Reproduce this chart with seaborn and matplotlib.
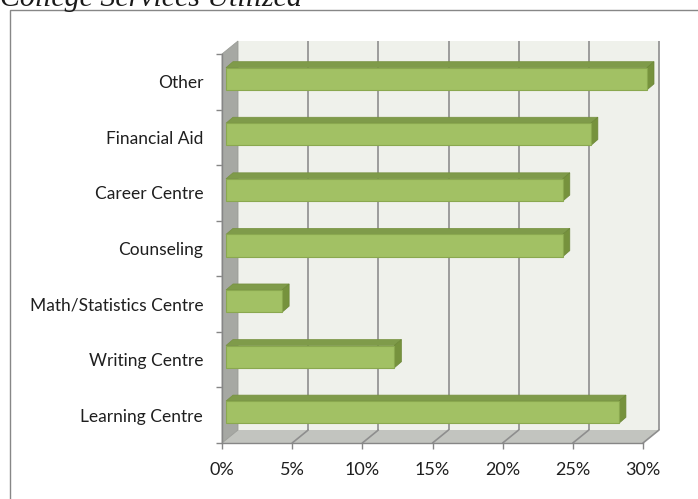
import numpy as np
import pandas as pd
import matplotlib.pyplot as plt
import seaborn as sns
from matplotlib.patches import Polygon, Rectangle
from matplotlib.transforms import ScaledTranslation

# Data
services = ["Other", "Financial Aid", "Career Centre", "Counseling",
            "Math/Statistics Centre", "Writing Centre", "Learning Centre"]
percent = [30, 26, 24, 24, 4, 12, 28]
x_ticks = [0, 5, 10, 15, 20, 25, 30]
x_labels = ["0%", "5%", "10%", "15%", "20%", "25%", "30%"]
title = "College Services Utilized"

sns.set_theme(style="white")
plt.rcParams["font.family"] = ["Lato", "DejaVu Sans"]

W, H = 698, 499
fig = plt.figure(figsize=(W / 100, H / 100), dpi=100)

# front plane of the 3D box, in pixels
left, right, bottom, top = 222, 643, 443, 54
ax = fig.add_axes([left / W, 1 - bottom / H, (right - left) / W, (bottom - top) / H])
ax.patch.set_visible(False)

df = pd.DataFrame({"Service": services, "Percent": percent})
sns.barplot(data=df, x="Percent", y="Service", orient="h", color="#a2c164",
            saturation=1, width=0.4, edgecolor="#8aa84f", linewidth=0.8,
            ax=ax, zorder=5)
ax.set_xlim(0, 30)
ax.set_ylim(len(services) - 0.5, -0.5)
ymin, ymax = -0.5, len(services) - 0.5


def shift(x, y, dx, dy):
    # move a data point by (dx, dy) screen pixels, return data coords
    X, Y = ax.transData.transform((x, y))
    return ax.transData.inverted().transform((X + dx, Y + dy))


DX, DY = 16, 13      # depth of the box
grid_col = "#8e8e8e"

# back wall
back = [shift(0, ymax, DX, DY), shift(30, ymax, DX, DY),
        shift(30, ymin, DX, DY), shift(0, ymin, DX, DY)]
ax.add_patch(Polygon(back, closed=True, facecolor="#eff1eb", edgecolor="none",
                     zorder=0, clip_on=False))
# floor
floor = [(0, ymax), (30, ymax), shift(30, ymax, DX, DY), shift(0, ymax, DX, DY)]
ax.add_patch(Polygon(floor, closed=True, facecolor="#c2c4bf", edgecolor="none",
                     zorder=1, clip_on=False))
# left wall
wall = [(0, ymax), (0, ymin), shift(0, ymin, DX, DY), shift(0, ymax, DX, DY)]
ax.add_patch(Polygon(wall, closed=True, facecolor="#a6a8a3", edgecolor="#9a9c97",
                     linewidth=0.6, zorder=2, clip_on=False))

# gridlines on the back wall and floor
for t in x_ticks[1:]:
    p0 = shift(t, ymax, DX, DY)
    p1 = shift(t, ymin, DX, DY)
    ax.plot([p0[0], p1[0]], [p0[1], p1[1]], color=grid_col, lw=1.2,
            zorder=1.5, clip_on=False, solid_capstyle="butt")
    ax.plot([t, p0[0]], [ymax, p0[1]], color=grid_col, lw=1.2,
            zorder=1.5, clip_on=False)

# 3D bars: move the front faces back a bit, then add top and side faces
FX, FY = 4, 3
BX, BY = 7, 6
front_off = ScaledTranslation(FX / 100, FY / 100, fig.dpi_scale_trans)
for p in ax.patches[:]:
    if not isinstance(p, Rectangle):
        continue
    x0 = p.get_x()
    x1 = x0 + p.get_width()
    yt = p.get_y()
    yb = yt + p.get_height()
    p.set_transform(ax.transData + front_off)
    p.set_clip_on(False)
    top_face = [shift(x0, yt, FX, FY), shift(x1, yt, FX, FY),
                shift(x1, yt, FX + BX, FY + BY), shift(x0, yt, FX + BX, FY + BY)]
    side_face = [shift(x1, yt, FX, FY), shift(x1, yb, FX, FY),
                 shift(x1, yb, FX + BX, FY + BY), shift(x1, yt, FX + BX, FY + BY)]
    ax.add_patch(Polygon(top_face, closed=True, facecolor="#7f9b4a",
                         edgecolor="#76913f", linewidth=0.5, zorder=4, clip_on=False))
    ax.add_patch(Polygon(side_face, closed=True, facecolor="#76923d",
                         edgecolor="#6b8636", linewidth=0.5, zorder=4, clip_on=False))

# axes, ticks and labels
for s in ["top", "right"]:
    ax.spines[s].set_visible(False)
for s in ["left", "bottom"]:
    ax.spines[s].set_color("#868686")
    ax.spines[s].set_linewidth(1.0)
    ax.spines[s].set_zorder(3)

ax.set_yticks(range(len(services)), services)
ax.set_yticks(np.arange(ymin, ymax + 0.5, 1), minor=True)
ax.tick_params(axis="y", which="major", left=False, length=0, pad=13.5,
               labelsize=12.5, labelcolor="#1f1f1f")
ax.tick_params(axis="y", which="minor", left=True, length=4.5, width=1,
               color="#868686", direction="out")
ax.set_xticks(x_ticks, x_labels)
ax.tick_params(axis="x", bottom=True, length=4.5, width=1, color="#868686",
               direction="out", pad=9, labelsize=13, labelcolor="#1f1f1f")
ax.set_xlabel("")
ax.set_ylabel("")
ax.grid(False)

# title (cut off at the top edge as in the reference) and outer frame
fig.text(0.0, 1 - 6 / H, title, ha="left", va="baseline", fontsize=21.5,
         style="italic", family="Liberation Serif", color="#1a1a1a")
fig.patches.append(Rectangle((10 / W, -0.1), 1.2, 1 - 10 / H + 0.1,
                             transform=fig.transFigure, fill=False,
                             edgecolor="#878787", linewidth=1.0))

fig.savefig("out.png", dpi=100)
